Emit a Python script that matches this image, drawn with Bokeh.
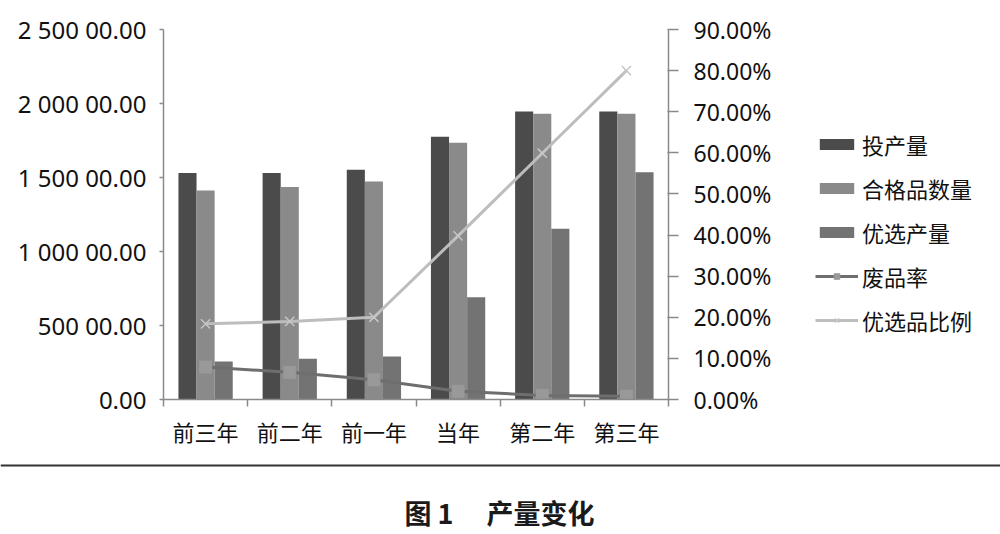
import numpy as np
from bokeh.plotting import figure
from bokeh.models import (Range1d, LinearAxis, FixedTicker, NumeralTickFormatter,
                          Legend, LegendItem, Span, Label, ColumnDataSource)
from bokeh.transform import dodge
from bokeh.layouts import column, row
from bokeh.embed import file_html
from bokeh.resources import INLINE

# ---------------- data ----------------
categories = ["前三年", "前二年", "前一年", "当年", "第二年", "第三年"]
input_qty = [1530, 1530, 1552, 1775, 1946, 1946]          # 投产量
qualified_qty = [1412, 1435, 1473, 1734, 1930, 1930]      # 合格品数量
premium_qty = [257, 275, 290, 691, 1153, 1536]            # 优选产量
reject_rate = [0.079, 0.066, 0.048, 0.020, 0.010, 0.008]  # 废品率
premium_ratio = [0.184, 0.190, 0.200, 0.398, 0.599, 0.800]  # 优选品比例

left_ticks = [0, 500, 1000, 1500, 2000, 2500]
left_tick_labels = ["0.00", "500 00.00", "1 000 00.00", "1 500 00.00",
                    "2 000 00.00", "2 500 00.00"]
right_ticks = [0.0, 0.1, 0.2, 0.3, 0.4, 0.5, 0.6, 0.7, 0.8, 0.9]

series_names = ["投产量", "合格品数量", "优选产量", "废品率", "优选品比例"]
caption = "图 1 \u3000产量变化"

# ---------------- styling ----------------
C_DARK = "#4b4b4b"
C_MID = "#8a8a8a"
C_THIRD = "#737373"
C_REJ_LINE = "#6e6e6e"
C_REJ_MARK = "#999999"
C_PREM_LINE = "#bdbdbd"
C_PREM_MARK = "#c6c6c6"
AXIS_C = "#8a8a8a"
NUM_FONT = "Noto Sans"
CJK_FONT = "Noto Sans CJK SC"

W = 1000
W1 = 790
H1 = 462
H2 = 72

pos = np.arange(len(categories)) + 0.5
bounds = np.arange(len(categories) + 1)

src = ColumnDataSource(dict(x=pos, cat=categories, a=input_qty, b=qualified_qty,
                            c=premium_qty, rej=reject_rate, prem=premium_ratio))

bw = 0.215
bar_fields = ["a", "b", "c"]
bar_colors = [C_DARK, C_MID, C_THIRD]
bar_offsets = [-bw, 0, bw]


def draw_series(fig, yname=None):
    """Draw the three bar series and the two rate lines on fig."""
    bars = []
    for fld, col, off in zip(bar_fields, bar_colors, bar_offsets):
        bars.append(fig.vbar(x=dodge("x", off), top=fld, width=bw, source=src,
                             fill_color=col, line_color=None))
    kw = {} if yname is None else {"y_range_name": yname}
    rl = fig.line(x="x", y="rej", source=src, line_color=C_REJ_LINE, line_width=3, **kw)
    rm = fig.scatter(x="x", y="rej", source=src, marker="square", size=12,
                     fill_color=C_REJ_MARK, line_color=C_REJ_MARK, **kw)
    pl = fig.line(x="x", y="prem", source=src, line_color=C_PREM_LINE, line_width=3, **kw)
    pm = fig.scatter(x="x", y="prem", source=src, marker="x", size=13,
                     line_color=C_PREM_MARK, line_width=1.5, **kw)
    return bars + [[rl, rm], [pl, pm]]


p = figure(width=W1, height=H1, x_range=Range1d(0, len(categories)),
           y_range=Range1d(0, 2500), toolbar_location=None, output_backend="svg",
           x_axis_type=None, y_axis_type=None,
           min_border_left=163, min_border_right=W1 - 668, min_border_top=29,
           min_border_bottom=H1 - 399)
p.frame_align = False
p.outline_line_color = None
p.background_fill_color = "white"
p.border_fill_color = "white"
p.extra_y_ranges = {"pct": Range1d(0, 0.9)}

# left axis
yl = LinearAxis(ticker=FixedTicker(ticks=left_ticks),
                major_label_overrides={t: l for t, l in zip(left_ticks, left_tick_labels)})
yl.axis_line_color = AXIS_C
yl.axis_line_width = 1.5
yl.major_tick_line_color = AXIS_C
yl.major_tick_line_width = 1.5
yl.major_tick_in = 0
yl.major_tick_out = 4
yl.minor_tick_line_color = None
yl.major_label_standoff = 13
yl.major_label_text_font = NUM_FONT
yl.major_label_text_font_size = "24px"
yl.major_label_text_color = "#111111"
p.add_layout(yl, "left")

# right axis
yr = LinearAxis(y_range_name="pct", ticker=FixedTicker(ticks=right_ticks),
                formatter=NumeralTickFormatter(format="0.00%"))
yr.axis_line_color = AXIS_C
yr.axis_line_width = 1.5
yr.major_tick_line_color = AXIS_C
yr.major_tick_line_width = 1.5
yr.major_tick_in = 1
yr.major_tick_out = 10
yr.minor_tick_line_color = None
yr.major_label_standoff = 15
yr.major_label_text_font = NUM_FONT
yr.major_label_text_font_size = "23px"
yr.major_label_text_color = "#111111"
p.add_layout(yr, "right")

# bottom axis (labels at category centres, ticks at category boundaries)
xb = LinearAxis(ticker=FixedTicker(ticks=list(pos), minor_ticks=list(bounds)),
                major_label_overrides={float(x): c for x, c in zip(pos, categories)})
xb.axis_line_color = AXIS_C
xb.axis_line_width = 1.5
xb.major_tick_line_color = None
xb.major_tick_in = 0
xb.major_tick_out = 0
xb.minor_tick_line_color = AXIS_C
xb.minor_tick_line_width = 1.5
xb.minor_tick_in = 0
xb.minor_tick_out = 7
xb.major_label_standoff = 8
xb.major_label_text_font = CJK_FONT
xb.major_label_text_font_size = "22px"
xb.major_label_text_color = "#111111"
p.add_layout(xb, "below")

# grid
p.ygrid.ticker = FixedTicker(ticks=left_ticks)
p.ygrid.grid_line_color = AXIS_C
p.ygrid.grid_line_width = 1.5
p.xgrid.visible = False

draw_series(p, "pct")

# legend panel: same series, drawn outside its visible ranges, so only the key shows
p3 = figure(width=W - W1, height=H1, x_range=Range1d(-3, -2), y_range=Range1d(-3, -2),
            toolbar_location=None, output_backend="svg",
            x_axis_type=None, y_axis_type=None, min_border=0)
p3.frame_align = False
p3.outline_line_color = None
p3.grid.visible = False
p3.background_fill_color = "white"
p3.border_fill_color = "white"
keys = draw_series(p3)

legend = Legend(items=[
    LegendItem(label=name, renderers=(r if isinstance(r, list) else [r]))
    for name, r in zip(series_names, keys)
], location=(25, 125))
legend.padding = 0
legend.margin = 0
legend.border_line_color = None
legend.background_fill_alpha = 0
legend.glyph_width = 43
legend.glyph_height = 14
legend.label_height = 34
legend.spacing = 10
legend.label_standoff = 4
legend.label_text_font = CJK_FONT
legend.label_text_font_size = "22px"
legend.label_text_color = "#111111"
p3.add_layout(legend)

# caption figure
p2 = figure(width=W, height=H2, x_range=Range1d(0, W), y_range=Range1d(0, H2),
            toolbar_location=None, output_backend="svg",
            x_axis_type=None, y_axis_type=None, min_border=0)
p2.frame_align = False
p2.outline_line_color = None
p2.grid.visible = False
p2.background_fill_color = "white"
p2.border_fill_color = "white"
p2.add_layout(Span(location=H2 - 3, dimension="width", line_color="#333333",
                   line_width=2))
p2.add_layout(Label(x=499, y=H2 - 50, text=caption, text_align="center",
                    text_baseline="middle", text_font=CJK_FONT,
                    text_font_size="27px", text_font_style="bold",
                    text_color="#1a1a1a"))

layout = column(row(p, p3, spacing=0), p2, spacing=0)
open("out.html", "w").write(file_html(layout, INLINE))
